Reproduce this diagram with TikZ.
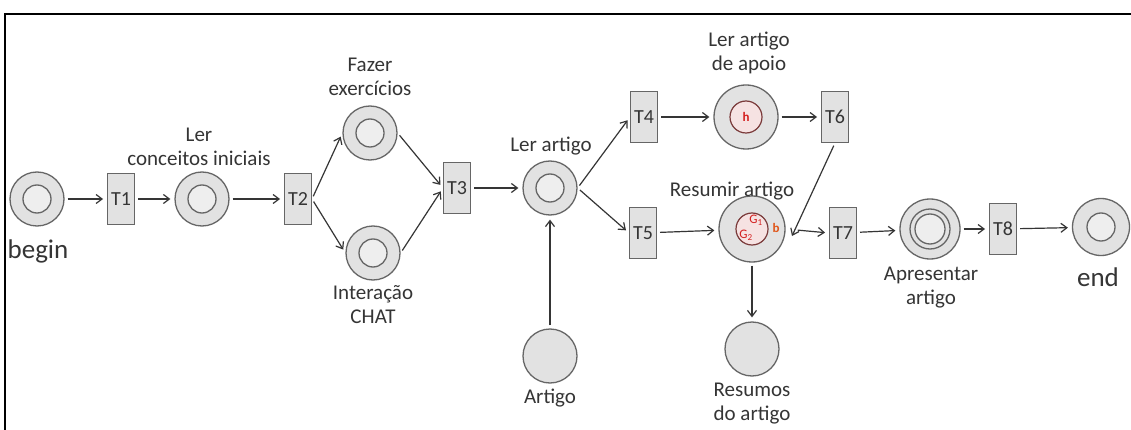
\documentclass[tikz,border=0pt]{standalone}
\usepackage{fontspec}
\setmainfont{Carlito}
\usetikzlibrary{arrows.meta}
\definecolor{ring}{HTML}{E2E2E2}
\definecolor{inner}{HTML}{EEEEEE}
\definecolor{edgec}{HTML}{666666}
\definecolor{ink}{HTML}{353535}
\definecolor{tok}{HTML}{D42020}
\definecolor{tokb}{HTML}{E0561A}
\definecolor{tokring}{HTML}{7A3A3A}
\definecolor{tokfill}{HTML}{F6E2E2}
\begin{document}
\begin{tikzpicture}[x=1pt,y=-1pt,
  place/.style={circle,draw=edgec,fill=ring,line width=1.3pt,minimum size=54pt,inner sep=0pt},
  trans/.style={rectangle,draw=edgec,fill=ring,line width=1pt,minimum width=27pt,minimum height=51pt,inner sep=0pt,font=\fontsize{20}{20}\selectfont,text=ink},
  lbl/.style={font=\fontsize{21}{24}\selectfont,text=ink,align=center,inner sep=0pt},
  biglbl/.style={font=\fontsize{27}{30}\selectfont,text=ink,inner sep=0pt},
  innerc/.style={draw=edgec,fill=inner,line width=1.3pt},
  tokc/.style={draw=tokring,fill=tokfill,line width=1.2pt},
  toktxt/.style={text=tok,inner sep=0pt,font=\fontsize{13}{13}\selectfont},
  arr/.style={-{Straight Barb[length=6pt,width=9pt]},draw=ink,line width=1.2pt,shorten >=4pt,shorten <=3pt},
]
\useasboundingbox (0,0) rectangle (1131,430);
\fill[white] (0,0) rectangle (1131,430);
\draw[line width=2.6pt] (1131,14) -- (5,14) -- (5,430);

% places
\node[place] (begin) at (37,199) {};
\node[place] (lci) at (202,199) {};
\node[place] (fazer) at (370,133) {};
\node[place] (chat) at (373,253) {};
\node[place] (lerart) at (550,188) {};
\node[place,minimum size=64pt] (apoio) at (746,117) {};
\node[place,minimum size=66pt] (resumir) at (752,229) {};
\node[place] (resumos) at (752,349) {};
\node[place] (artigo) at (550,356) {};
\node[place,minimum size=60pt] (apres) at (930,229) {};
\node[place,minimum size=57pt] (endp) at (1101,227) {};

\foreach \p in {begin,lci,fazer,chat,lerart,endp}
  \draw[innerc] (\p.center) circle[radius=14pt];
\draw[tokc] (apoio.center) circle[radius=16pt];
\draw[tokc] (resumir.center) circle[radius=16pt];
\draw[edgec,line width=1.3pt] (apres.center) circle[radius=20pt];
\draw[innerc] (apres.center) circle[radius=15pt];

% tokens
\node[toktxt,font=\bfseries\fontsize{13}{13}\selectfont] (htok) at (apoio.center) {h};
\node[toktxt] (g1) at (756,220) {G\textsubscript{1}};
\node[toktxt] (g2) at (746,235) {G\textsubscript{2}};
\node[toktxt,text=tokb,font=\bfseries\fontsize{13}{13}\selectfont] (btok) at (776,228) {b};

% transitions
\node[trans] (T1) at (121,199) {T1};
\node[trans] (T2) at (298,199) {T2};
\node[trans] (T3) at (457,188) {T3};
\node[trans] (T4) at (644,117) {T4};
\node[trans] (T5) at (643,233) {T5};
\node[trans] (T6) at (835,117) {T6};
\node[trans] (T7) at (843,233) {T7};
\node[trans] (T8) at (1003,229) {T8};

% labels
\node[lbl] (l1) at (199,147) {Ler\\conceitos iniciais};
\node[lbl] (l2) at (370,77) {Fazer\\exercícios};
\node[lbl] (l3) at (373,305) {Interação\\CHAT};
\node[lbl] (l4) at (551,146) {Ler artigo};
\node[lbl] (l5) at (749,53) {Ler artigo\\de apoio};
\node[lbl] (l6) at (732,191) {Resumir artigo};
\node[lbl] (l7) at (752,404) {Resumos\\do artigo};
\node[lbl] (l8) at (550,398) {Artigo};
\node[lbl] (l9) at (931,288) {Apresentar\\artigo};
\node[biglbl] (lb) at (38,251) {begin};
\node[biglbl] (le) at (1098,277) {end};

% arcs
\coordinate (bpt) at (792,236);
\draw[arr] (begin) -- (T1);
\draw[arr] (T1) -- (lci);
\draw[arr] (lci) -- (T2);
\draw[arr] (T2.east) -- (fazer.west);
\draw[arr] (T2.east) -- (chat.west);
\draw[arr] (fazer.east) -- (T3.west);
\draw[arr] (chat.east) -- (T3.west);
\draw[arr] (T3) -- (lerart);
\draw[arr] (lerart.east) -- (T4.west);
\draw[arr] (lerart.east) -- (T5.west);
\draw[arr] (T4) -- (apoio);
\draw[arr] (apoio) -- (T6);
\draw[arr,shorten >=0pt] (T6.south) -- (bpt);
\draw[arr] (T5) -- (resumir);
\draw[arr,shorten <=12pt] (resumir.east) -- (T7.west);
\draw[arr] (resumir) -- (resumos);
\draw[arr] (artigo) -- (lerart);
\draw[arr] (T7) -- (apres);
\draw[arr] (apres) -- (T8);
\draw[arr] (T8) -- (endp);
\end{tikzpicture}
\end{document}
